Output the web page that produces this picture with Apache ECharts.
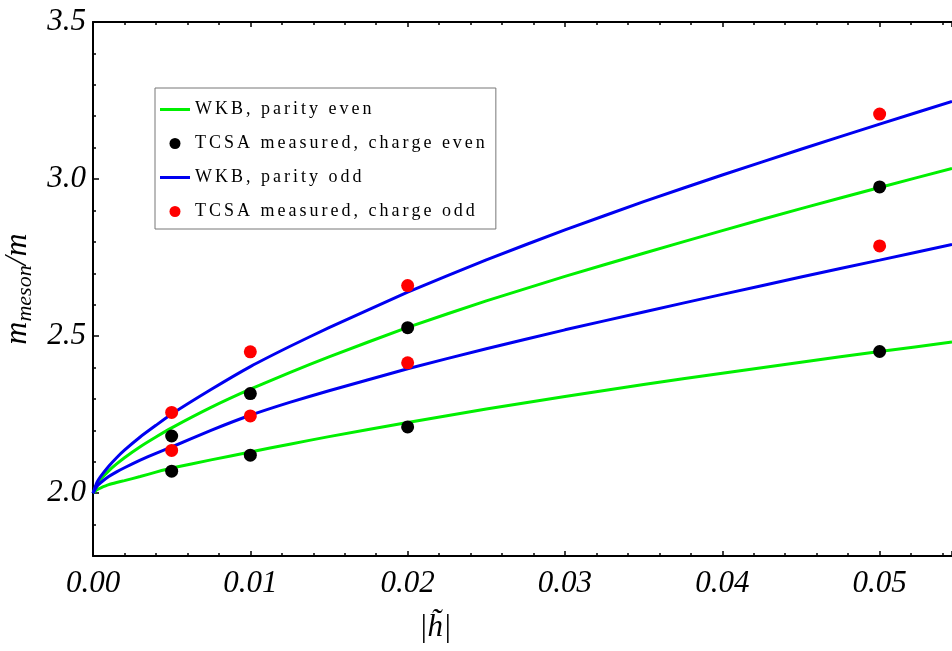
<!DOCTYPE html>
<html>
<head>
<meta charset="utf-8">
<script src="https://cdn.jsdelivr.net/npm/echarts@6/dist/echarts.min.js"></script>
<style>
  html, body { margin: 0; padding: 0; background: #fff; }
  #chart { width: 952px; height: 651px; }
</style>
</head>
<body>
<div id="chart"></div>
<script>
// values
const hGrid = [0, 0.00025, 0.0005, 0.001, 0.0015, 0.002, 0.003, 0.004, 0.005, 0.0075, 0.01, 0.0125, 0.015, 0.02, 0.025, 0.03, 0.035, 0.04, 0.045, 0.05, 0.0546];
const wkbEvenLow  = [2, 2.011, 2.017, 2.027, 2.034, 2.040, 2.053, 2.067, 2.080, 2.106, 2.131, 2.156, 2.180, 2.225, 2.268, 2.308, 2.346, 2.382, 2.417, 2.451, 2.481];
const wkbEvenHigh = [2, 2.028, 2.045, 2.071, 2.093, 2.113, 2.148, 2.179, 2.208, 2.273, 2.331, 2.384, 2.434, 2.528, 2.612, 2.690, 2.764, 2.836, 2.906, 2.973, 3.034];
const wkbOddLow   = [2, 2.022, 2.034, 2.053, 2.068, 2.081, 2.105, 2.127, 2.147, 2.200, 2.248, 2.289, 2.326, 2.396, 2.460, 2.520, 2.577, 2.633, 2.688, 2.742, 2.792];
const wkbOddHigh  = [2, 2.034, 2.054, 2.086, 2.113, 2.137, 2.179, 2.216, 2.252, 2.330, 2.403, 2.467, 2.527, 2.640, 2.743, 2.838, 2.928, 3.013, 3.095, 3.175, 3.247];

const tcsaH = [0.005, 0.01, 0.02, 0.05];
const tcsaEvenLow  = [2.070, 2.121, 2.211, 2.451];
const tcsaEvenHigh = [2.182, 2.317, 2.527, 2.975];
const tcsaOddLow   = [2.136, 2.246, 2.415, 2.787];
const tcsaOddHigh  = [2.257, 2.450, 2.661, 3.207];

const legendNames = ['WKB, parity even', 'TCSA measured, charge even', 'WKB, parity odd', 'TCSA measured, charge odd'];

const xMin = 0, xMax = 0.0546, yMin = 1.8, yMax = 3.5;

function pairs(xs, ys) { return xs.map((x, i) => [x, ys[i]]); }

const labelFont = { fontFamily: 'Liberation Serif', fontStyle: 'italic', fontSize: 31, color: '#000' };
const axisLineStyle = { lineStyle: { color: '#000', width: 2 } };

const gridTop = 22, gridBottom = 95, gridLeft = 93;
const plotH = 651 - gridTop - gridBottom;
const majorH = plotH * (yMax - 2) / (yMax - yMin);

// thin stripe icon for the line entries of the legend
const lineIcon = 'path://M0,0L0.01,0L0,0.01Z M0,4L30,4L30,7L0,7Z M0,11L0.01,11L0,10.99Z';

const myChart = echarts.init(document.getElementById('chart'));

function wkbLine(name, color, data) {
  return {
    name: name, type: 'line', data: data, symbol: 'none', showSymbol: false,
    smooth: 0.15,
    lineStyle: { color: color, width: 3 }, itemStyle: { color: color },
    z: 2
  };
}
function tcsaDots(name, color, data) {
  return {
    name: name, type: 'scatter', data: data, symbolSize: 13,
    itemStyle: { color: color, opacity: 1 }, z: 3
  };
}

var option = {
  animation: false,
  backgroundColor: '#fff',
  grid: [
    { left: gridLeft, right: 0, top: gridTop, bottom: gridBottom, outerBoundsMode: 'none', containLabel: false },
    { left: gridLeft, right: 0, top: gridTop, height: majorH, outerBoundsMode: 'none', containLabel: false }
  ],
  legend: {
    orient: 'vertical',
    left: 155, top: 88,
    padding: [11, 11, 7, 5],
    itemGap: 13,
    itemWidth: 30, itemHeight: 11,
    borderColor: '#777', borderWidth: 1,
    backgroundColor: '#fff',
    data: [
      { name: legendNames[0], icon: lineIcon },
      { name: legendNames[1], icon: 'circle' },
      { name: legendNames[2], icon: lineIcon },
      { name: legendNames[3], icon: 'circle' }
    ],
    formatter: n => n.split('').join('\u2006'),
    textStyle: { fontFamily: 'Liberation Serif', fontSize: 18, color: '#000', lineHeight: 21 }
  },
  xAxis: [
    {
      type: 'value', gridIndex: 0, position: 'bottom',
      min: xMin, max: xMax, interval: 0.01,
      axisLine: axisLineStyle,
      axisTick: { inside: true, length: 5, lineStyle: { color: '#000', width: 1.5 } },
      minorTick: { show: true, splitNumber: 5, length: 3, lineStyle: { color: '#000', width: 1.5 } },
      splitLine: { show: false },
      axisLabel: Object.assign({ margin: 12, showMaxLabel: false, formatter: v => v.toFixed(2) }, labelFont)
    },
    {
      type: 'value', gridIndex: 0, position: 'top',
      min: xMin, max: xMax, interval: 0.01,
      axisLine: axisLineStyle,
      axisTick: { inside: true, length: 5, lineStyle: { color: '#000', width: 1.5 } },
      minorTick: { show: true, splitNumber: 5, length: 3, lineStyle: { color: '#000', width: 1.5 } },
      splitLine: { show: false },
      axisLabel: { show: false }
    },
    {
      type: 'value', gridIndex: 1, min: xMin, max: xMax, show: false
    }
  ],
  yAxis: [
    {
      type: 'value', gridIndex: 0,
      min: yMin, max: yMax, interval: 0.1,
      axisLine: axisLineStyle,
      axisTick: { inside: true, length: 3, lineStyle: { color: '#000', width: 1.5 } },
      splitLine: { show: false },
      axisLabel: Object.assign({
        margin: 7,
        formatter: v => (Math.abs(v * 2 - Math.round(v * 2)) < 1e-6 ? v.toFixed(1) : '')
      }, labelFont),
      name: '{a|m}{b|meson}{a|/m}',
      nameLocation: 'middle', nameRotate: 90, nameGap: 54,
      nameTextStyle: {
        rich: {
          a: { fontFamily: 'Liberation Serif', fontStyle: 'italic', fontSize: 32, color: '#000' },
          b: { fontFamily: 'Liberation Serif', fontStyle: 'italic', fontSize: 22, color: '#000', padding: [16, 0, 0, 0] }
        }
      }
    },
    {
      type: 'value', gridIndex: 1,
      min: 2, max: yMax, interval: 0.5,
      axisLine: { show: false },
      axisTick: { inside: true, length: 6, lineStyle: { color: '#000', width: 1.5 } },
      splitLine: { show: false },
      axisLabel: { show: false }
    }
  ],
  graphic: [
    {
      type: 'text', left: 419, top: 612,
      style: { text: '|h\u0303|', font: 'italic 31px "Liberation Serif"', fill: '#000' }
    }
  ],
  series: [
    wkbLine(legendNames[0], '#00f000', pairs(hGrid, wkbEvenLow)),
    wkbLine(legendNames[0], '#00f000', pairs(hGrid, wkbEvenHigh)),
    wkbLine(legendNames[2], '#0000f0', pairs(hGrid, wkbOddLow)),
    wkbLine(legendNames[2], '#0000f0', pairs(hGrid, wkbOddHigh)),
    tcsaDots(legendNames[1], '#000000', pairs(tcsaH, tcsaEvenLow).concat(pairs(tcsaH, tcsaEvenHigh))),
    tcsaDots(legendNames[3], '#ff0000', pairs(tcsaH, tcsaOddLow).concat(pairs(tcsaH, tcsaOddHigh)))
  ]
};

myChart.setOption(option);
</script>
</body>
</html>
